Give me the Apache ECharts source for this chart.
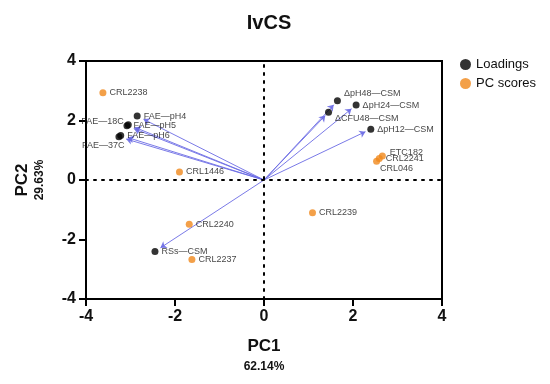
<!DOCTYPE html>
<html><head><meta charset="utf-8">
<script src="https://cdn.jsdelivr.net/npm/echarts@6/dist/echarts.min.js"></script>
<style>html,body{margin:0;padding:0;background:#fff}#c{width:550px;height:384px}</style>
</head><body><div id="c"></div>
<script>
const loadingNames = ['FAE—pH4','FAE—pH5','FAE—pH6','FAE—18C','FAE—37C','ΔpH48—CSM','ΔpH24—CSM','ΔCFU48—CSM','ΔpH12—CSM','RSs—CSM'];
const loadingX = [-2.85,-3.08,-3.22,-3.05,-3.26,1.65,2.07,1.45,2.40,-2.45];
const loadingY = [2.15,1.82,1.50,1.86,1.45,2.66,2.52,2.28,1.71,-2.40];
const scoreNames = ['CRL2238','CRL1446','ETC182','CRL2241','CRL046','CRL2240','CRL2237','CRL2239'];
const scoreX = [-3.62,-1.90,2.66,2.59,2.53,-1.68,-1.62,1.09];
const scoreY = [2.93,0.27,0.81,0.72,0.63,-1.49,-2.67,-1.10];
const xTicks = [-4,-2,0,2,4];
const yTicks = [-4,-2,0,2,4];

// label placement (style only)
const loadLabelPos = ['right','right','right','leftUp','bottomLeft','topRight','right','bottomRight','right','right'];
const scoreLabelPos = ['right','right','topRight2','right','bottomRight2','right','right','right'];

function lbl(pos){
  const base = {show:true, formatter:'{b}', fontSize:9, color:'#111', fontFamily:'Liberation Sans, Arial'};
  if (pos==='topRight') return Object.assign(base,{position:'right',offset:[-2,-7]});
  if (pos==='topRight2') return Object.assign(base,{position:'right',offset:[-1,-3]});
  if (pos==='bottomRight') return Object.assign(base,{position:'right',offset:[-2,6]});
  if (pos==='bottomRight2') return Object.assign(base,{position:'right',offset:[-5,7]});
  if (pos==='bottomLeft') return Object.assign(base,{position:'left',offset:[14,9]});
  if (pos==='leftUp') return Object.assign(base,{position:'left',offset:[4,-3]});
  return Object.assign(base,{position:pos, distance:3});
}

const loadData = loadingNames.map((n,i)=>({name:n, value:[loadingX[i],loadingY[i]], label:lbl(loadLabelPos[i])}));
const scoreData = scoreNames.map((n,i)=>({name:n, value:[scoreX[i],scoreY[i]], label:lbl(scoreLabelPos[i])}));
const k = 0.95;
const arrowData = loadingNames.map((n,i)=>({coords:[[0,0],[loadingX[i]*k, loadingY[i]*k]]}));

const chart = echarts.init(document.getElementById('c'));
const axisFont = {fontSize:16, fontWeight:'bold', color:'#111', fontFamily:'Liberation Sans, Arial'};
chart.setOption({
  animation:false,
  title:{text:'IvCS', left:264, textAlign:'center', top:8, textStyle:{fontSize:20, fontWeight:'bold', color:'#111', fontFamily:'Liberation Sans, Arial'}},
  legend:{orient:'vertical', left:455, top:53, itemGap:6, itemWidth:11, itemHeight:11, icon:'circle',
    textStyle:{fontSize:13, color:'#111', fontFamily:'Liberation Sans, Arial'},
    data:['Loadings','PC scores']},
  grid:{left:86, right:108, top:61, bottom:85, show:true, borderColor:'#000', borderWidth:2, backgroundColor:'transparent'},
  xAxis:{type:'value', min:xTicks[0], max:xTicks[xTicks.length-1], interval:2,
    axisLine:{onZero:false, lineStyle:{color:'#000', width:2}},
    axisTick:{show:true, length:7, lineStyle:{color:'#000', width:2}},
    axisLabel:Object.assign({margin:10}, axisFont),
    splitLine:{show:false},
    name:'{a|PC1}\n{b|62.14%}', nameLocation:'middle', nameGap:36,
    nameTextStyle:{rich:{a:{fontSize:17, fontWeight:'bold', color:'#111', fontFamily:'Liberation Sans, Arial', lineHeight:22},
                         b:{fontSize:12, fontWeight:'bold', color:'#111', fontFamily:'Liberation Sans, Arial', lineHeight:20}}}},
  yAxis:{type:'value', min:yTicks[0], max:yTicks[yTicks.length-1], interval:2,
    axisLine:{onZero:false, lineStyle:{color:'#000', width:2}},
    axisTick:{show:true, length:7, lineStyle:{color:'#000', width:2}},
    axisLabel:Object.assign({margin:10}, axisFont),
    splitLine:{show:false},
    name:'{a|PC2}\n{b|29.63%}', nameLocation:'middle', nameGap:38, nameRotate:90,
    nameTextStyle:{rich:{a:{fontSize:17, fontWeight:'bold', color:'#111', fontFamily:'Liberation Sans, Arial', lineHeight:20},
                         b:{fontSize:12, fontWeight:'bold', color:'#111', fontFamily:'Liberation Sans, Arial', lineHeight:16}}}},
  series:[
    {type:'lines', coordinateSystem:'cartesian2d', silent:true, z:2,
      symbol:['none','arrow'], symbolSize:6,
      lineStyle:{color:'#6c6ce4', width:1, opacity:0.9},
      data:arrowData,
      markLine:{silent:true, symbol:'none', label:{show:false},
        lineStyle:{color:'#000', width:2, type:[2,6], cap:'round'},
        data:[{xAxis:0},{yAxis:0}]}},
    {name:'Loadings', type:'scatter', symbol:'circle', symbolSize:7, z:3,
      itemStyle:{color:'#000'}, data:loadData},
    {name:'PC scores', type:'scatter', symbol:'circle', symbolSize:7, z:3,
      itemStyle:{color:'#f0881c'}, data:scoreData}
  ]
});
</script></body></html>
